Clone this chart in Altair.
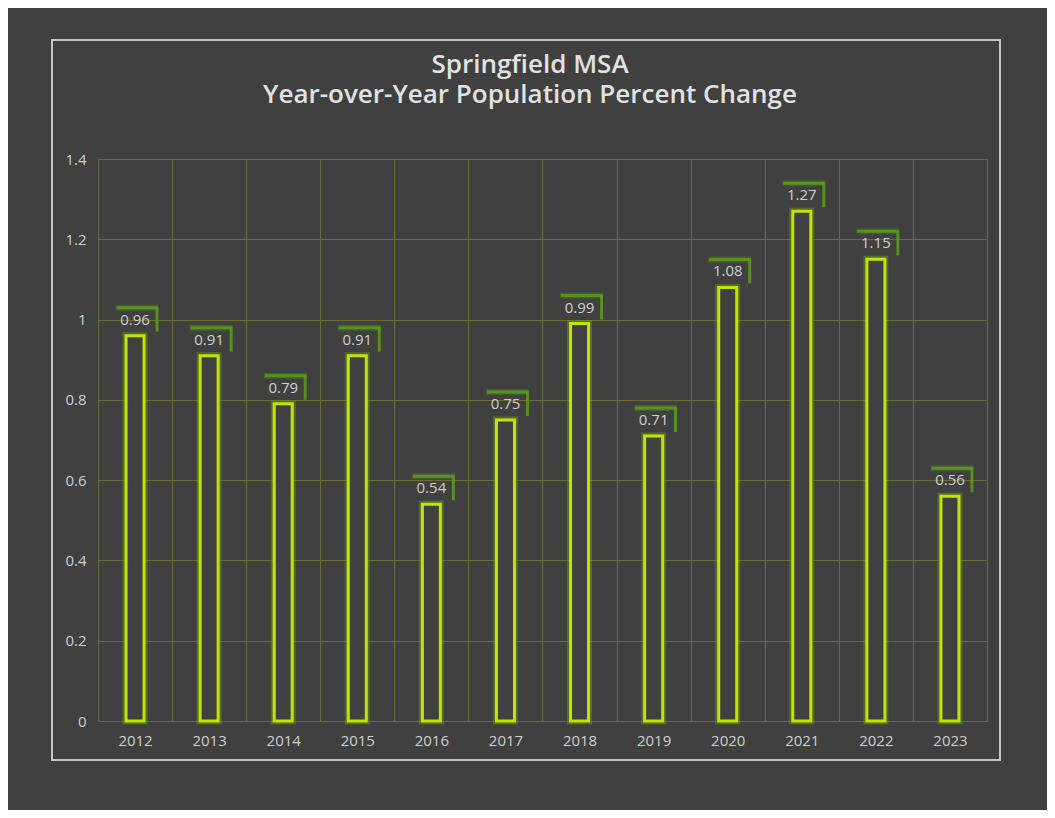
import altair as alt
import pandas as pd

years = ["2012", "2013", "2014", "2015", "2016", "2017", "2018", "2019", "2020", "2021", "2022", "2023"]
values = [0.96, 0.91, 0.79, 0.91, 0.54, 0.75, 0.99, 0.71, 1.08, 1.27, 1.15, 0.56]
title_lines = ["Springfield MSA", "Year-over-Year Population Percent Change"]

df = pd.DataFrame({"year": years, "value": values})

FONT = "Open Sans"
BG = "#404040"
GRID = "#6c6c38"
TXT = "#cfcfcf"

x = alt.X("year:N", sort=years, title=None,
          scale=alt.Scale(paddingInner=0, paddingOuter=0),
          axis=alt.Axis(labelAngle=0, labelFontSize=15, labelColor=TXT, labelFont=FONT,
                        labelPadding=12, ticks=False, domain=False, grid=True,
                        gridColor=GRID, gridWidth=1, tickBand="extent"))
y = alt.Y("value:Q", title=None,
          scale=alt.Scale(domain=[0, 1.4], nice=False),
          axis=alt.Axis(values=[0, 0.2, 0.4, 0.6, 0.8, 1.0, 1.2, 1.4], format="~g",
                        labelFontSize=15, labelColor=TXT, labelFont=FONT, labelPadding=12,
                        ticks=False, domain=False, grid=True, gridColor=GRID, gridWidth=1))

base = alt.Chart(df)

frame = base.mark_rect(fill=None, stroke="#c8c8c8", strokeWidth=1.5).encode(
    x=alt.value(-46), x2=alt.value(902), y=alt.value(-119), y2=alt.value(601)
)

title = alt.Chart(pd.DataFrame({"t": [title_lines]})).mark_text(
    fontSize=26, fontWeight=600, color="#e2e2e2", font=FONT, baseline="middle", align="center",
    lineHeight=30
).encode(x=alt.value(432), y=alt.value(-94), text="t")

glow = base.mark_bar(size=18, fillOpacity=0, stroke="#5fa312", strokeWidth=7, strokeOpacity=0.45).encode(
    x=x, y=y
)
bars = base.mark_bar(size=18, fill=BG, stroke="#c4e300", strokeWidth=3).encode(
    x=x, y=y
)

shadow_glow = base.mark_tick(size=43, thickness=6, color="#5a9c1c", opacity=0.3,
                             xOffset=2, yOffset=-28).encode(x=x, y=y)
shadow_top = base.mark_tick(size=41, thickness=3, color="#5a9c1c", opacity=0.85,
                            xOffset=2, yOffset=-28).encode(x=x, y=y)
shadow_right = base.mark_rule(color="#5a9c1c", strokeWidth=3, opacity=0.85,
                              xOffset=22, yOffset=-29, y2Offset=-4).encode(
    x=x, y=y, y2="value:Q"
)

labels = base.mark_text(fontSize=15, color=TXT, font=FONT, baseline="middle",
                        dy=-16).encode(x=x, y=y, text=alt.Text("value:Q", format=".2f"))

chart = alt.layer(frame, title, glow, bars, shadow_glow, shadow_top, shadow_right, labels).properties(
    width=889, height=562,
    padding={"left": 90, "top": 151, "right": 60, "bottom": 89},
    autosize=alt.AutoSizeParams(type="none"),
    background=BG,
).configure_view(stroke=None)

chart.save("out.html", embed_options={"renderer": "svg", "actions": False})
